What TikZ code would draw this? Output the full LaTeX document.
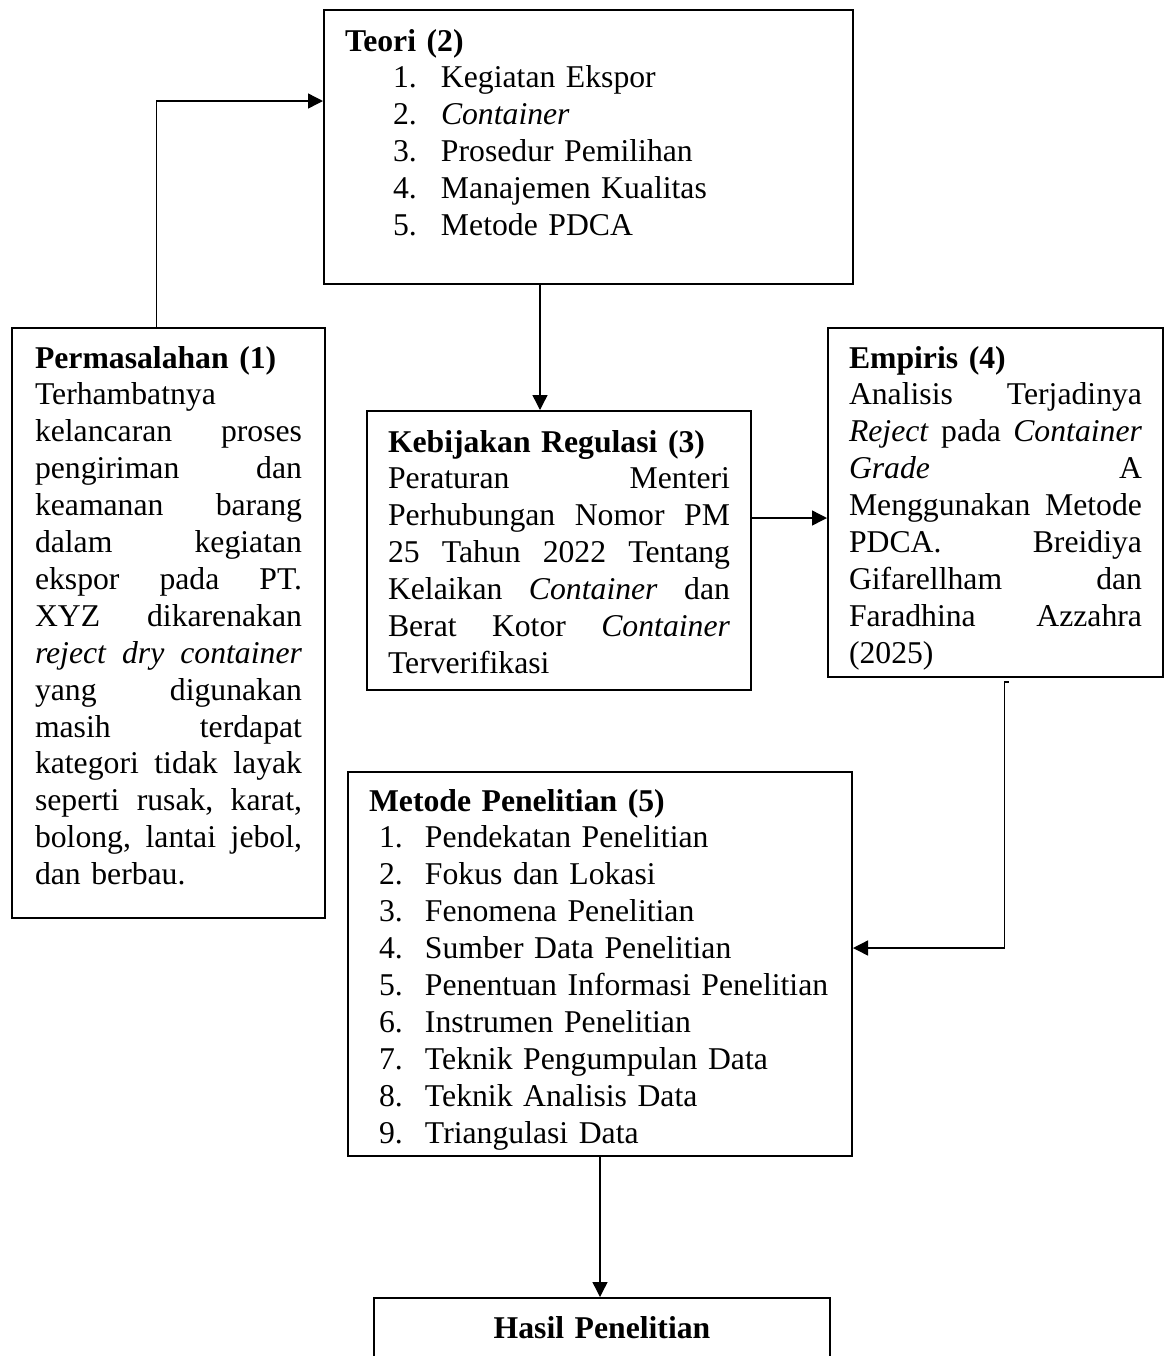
\documentclass[tikz,border=0pt]{standalone}
\usepackage{fontspec}
\setmainfont{Liberation Serif}
\usetikzlibrary{positioning, calc, arrows.meta}
\tikzset{
	boxnode/.style={
			draw=black,
			line width=1pt,
			anchor=north west,
			align=left,
			inner ysep=0pt,
			inner xsep=10.5pt,
			font=\fontsize{15.85pt}{18.45pt}\selectfont
		},
	linkarrow/.style={
			draw=black,
			line width=0.7pt,
			-{Triangle[length=7.5pt, width=7.5pt]}
		}
}
\newcommand{\teoriitem}[2]{\hspace*{24pt}\makebox[24pt][l]{#1}\mbox{#2}}
\newcommand{\metodeitem}[2]{\hspace*{5pt}\makebox[23pt][l]{#1}\mbox{#2}}

\begin{document}
\begin{tikzpicture}[x=0.5pt, y=-0.5pt]
\useasboundingbox (0,0) rectangle (1171,1356);
\clip (0,0) rectangle (1171,1356);

\node[boxnode, text width=243.5pt, text height=20.5pt, text depth=116.5pt] (teori) at (323,9) {
\textbf{Teori (2)}\\
\teoriitem{1.}{Kegiatan Ekspor}\\
\teoriitem{2.}{\textit{Container}}\\
\teoriitem{3.}{Prosedur Pemilihan}\\
\teoriitem{4.}{Manajemen Kualitas}\\
\teoriitem{5.}{Metode PDCA}};

\node[boxnode, inner xsep=11.5pt, text width=133.5pt, text height=20pt, text depth=275pt] (perm) at (11,327) {
\textbf{Permasalahan (1)}\\
Terhambatnya\\
kelancaran\hfill proses\\
pengiriman\hfill dan\\
keamanan\hfill barang\\
dalam\hfill kegiatan\\
ekspor\hfill pada\hfill PT.\\
XYZ\hfill dikarenakan\\
\textit{reject\hfill dry\hfill container}\\
yang\hfill digunakan\\
masih\hfill terdapat\\
kategori\hfill tidak\hfill layak\\
seperti\hfill rusak,\hfill karat,\\
bolong,\hfill lantai\hfill jebol,\\
dan berbau.};

\node[boxnode, text width=171pt, text height=20.5pt, text depth=119pt] (keb) at (366,410) {
\textbf{Kebijakan Regulasi (3)}\\
Peraturan\hfill Menteri\\
Perhubungan\hfill Nomor\hfill PM\\
25\hfill Tahun\hfill 2022\hfill Tentang\\
Kelaikan\hfill \textit{Container}\hfill dan\\
Berat\hfill Kotor\hfill \textit{Container}\\
Terverifikasi};

\node[boxnode, text width=146.5pt, text height=20pt, text depth=154.5pt] (emp) at (827,327) {
\textbf{Empiris (4)}\\
Analisis\hfill Terjadinya\\
\textit{Reject}\hfill pada\hfill \textit{Container}\\
\textit{Grade}\hfill A\\
Menggunakan\hfill Metode\\
PDCA.\hfill Breidiya\\
Gifarellham\hfill dan\\
Faradhina\hfill Azzahra\\
(2025)};

\node[boxnode, text width=231pt, text height=19.5pt, text depth=172.5pt] (met) at (347,771) {
\textbf{Metode Penelitian (5)}\\
\metodeitem{1.}{Pendekatan Penelitian}\\
\metodeitem{2.}{Fokus dan Lokasi}\\
\metodeitem{3.}{Fenomena Penelitian}\\
\metodeitem{4.}{Sumber Data Penelitian}\\
\metodeitem{5.}{Penentuan Informasi Penelitian}\\
\metodeitem{6.}{Instrumen Penelitian}\\
\metodeitem{7.}{Teknik Pengumpulan Data}\\
\metodeitem{8.}{Teknik Analisis Data}\\
\metodeitem{9.}{Triangulasi Data}};

\node[boxnode, align=center, text width=207pt, text height=20pt, text depth=50pt] (hasil) at (373,1297) {
\textbf{Hasil Penelitian}};

\coordinate (xa) at (540,0);
\coordinate (yb) at (0,518);
\coordinate (yc) at (0,948);

\draw[linkarrow] ($(perm.north)+(-12,0)$) |- ($(teori.west)+(0,-46)$);
\draw[linkarrow] (teori.south -| xa) -- (keb.north -| xa);
\draw[linkarrow] (keb.east |- yb) -- (emp.west |- yb);
\draw[linkarrow] ($(emp.south)+(13,4)$) -- ++(-4,0) |- (met.east |- yc);
\draw[linkarrow] (met.south) -- (met.south |- hasil.north);
\end{tikzpicture}
\end{document}
